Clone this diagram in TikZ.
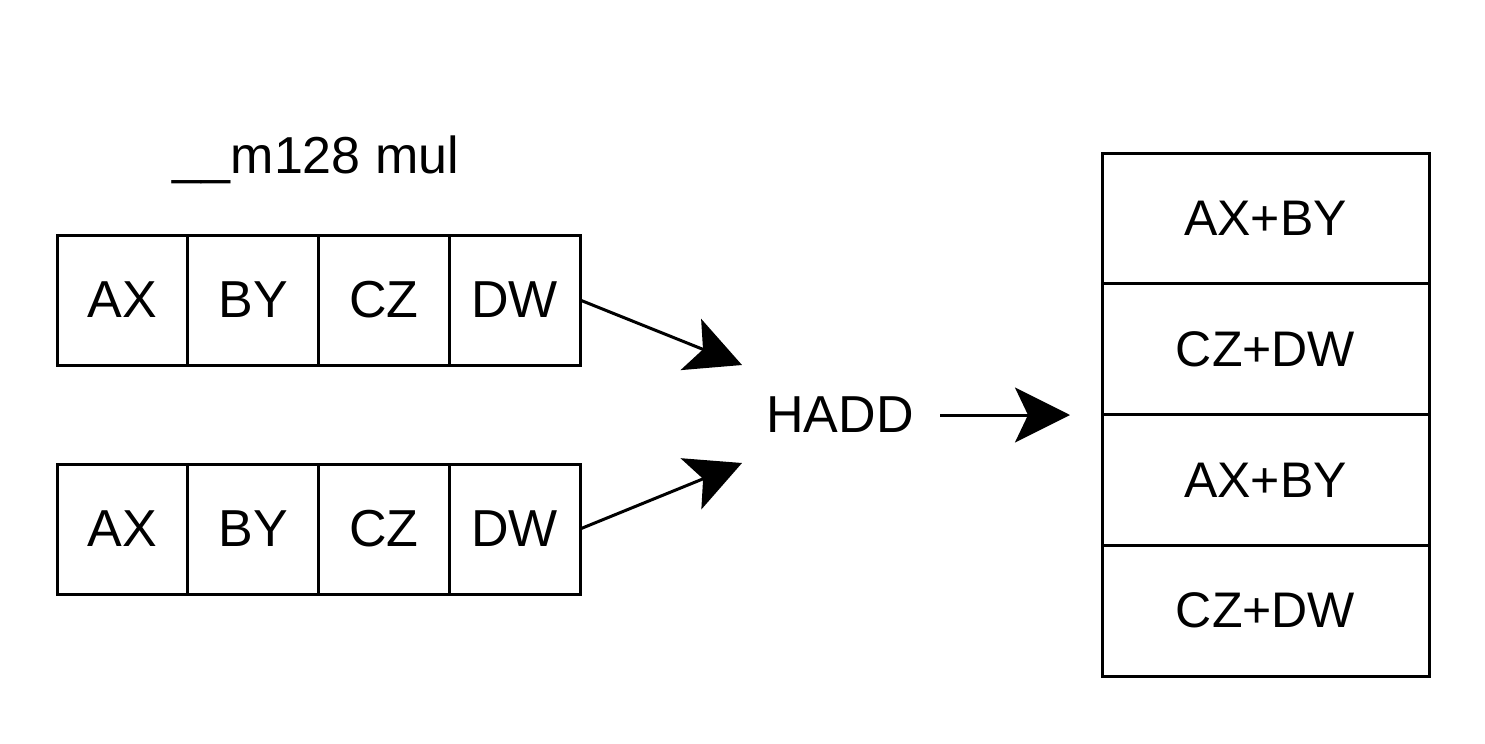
\documentclass[tikz,border=0pt]{standalone}
\usepackage{fontspec}
\setmainfont{Liberation Sans}
\usetikzlibrary{arrows.meta}
\begin{document}
\begin{tikzpicture}[x=0.5pt,y=-0.5pt,
  txt/.style={font=\fontsize{26}{30}\selectfont},
  cell/.style={txt,draw,line width=1.5pt,minimum width=65.4pt,minimum height=65pt,inner sep=0pt,outer sep=0pt},
  rcell/.style={draw,line width=1.5pt,minimum width=163.5pt,minimum height=65.4pt,inner sep=0pt,outer sep=0pt,font=\fontsize{25}{30}\selectfont},
  conn/.style={line width=1.5pt,-{Stealth[length=27.5pt,width=27.5pt,inset=6.5pt]}}]
\useasboundingbox (0,0) rectangle (1485,744);
\fill[white] (0,0) rectangle (1485,744);
\node[txt] (title) at (316,160) {\_\_m128 mul};
% top row
\node[cell] (ax1) at (122.4,300) {AX};
\node[cell] (by1) at (253.1,300) {BY};
\node[cell] (cz1) at (383.9,300) {CZ};
\node[cell] (dw1) at (514.6,300) {DW};
% bottom row
\node[cell] (ax2) at (122.4,529) {AX};
\node[cell] (by2) at (253.1,529) {BY};
\node[cell] (cz2) at (383.9,529) {CZ};
\node[cell] (dw2) at (514.6,529) {DW};
% HADD
\node[txt] (hadd) at (840,415) {HADD};
% right column
\node[rcell] (r1) at (1265.5,218.4) {AX+BY};
\node[rcell] (r2) at (1265.5,349.1) {CZ+DW};
\node[rcell] (r3) at (1265.5,479.9) {AX+BY};
\node[rcell] (r4) at (1265.5,610.6) {CZ+DW};
% connectors
\coordinate (t1) at (742,365);
\coordinate (t2) at (742,463);
\coordinate (s3) at (940,415);
\coordinate (t3) at (1070,415);
\draw[conn] (dw1.east) -- (t1);
\draw[conn] (dw2.east) -- (t2);
\draw[conn] (s3) -- (t3);
\end{tikzpicture}
\end{document}
